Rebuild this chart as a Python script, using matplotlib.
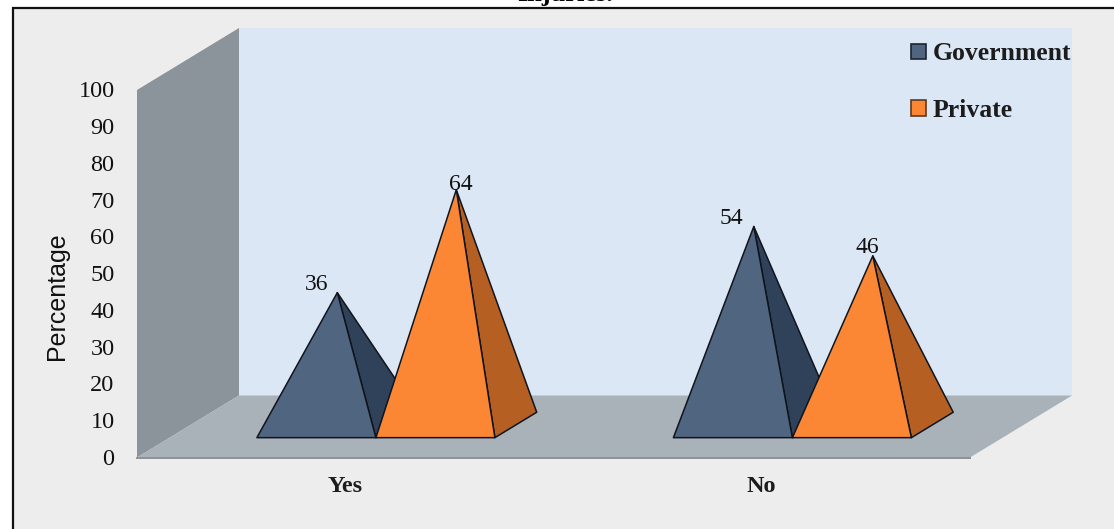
#!/usr/bin/env python
# imports
import matplotlib
matplotlib.use("Agg")
import matplotlib.pyplot as plt
from matplotlib.patches import Polygon, Patch

# data
categories = ["Yes", "No"]
government = [36, 54]
private = [64, 46]
y_ticks = [0, 10, 20, 30, 40, 50, 60, 70, 80, 90, 100]

# scale of the drawing: pixels per category and per percent
PX_W, PX_H = 1114, 529
CAT_PX = 416.5
VAL_PX = 3.675
X0_PX = 345.25   # centre of first category on the front edge of the floor
Y0_PX = 457.5    # value 0 on the front edge

# depth axis, d=0 is the front of the floor, d=1 the back wall
DEPTH_X = 102.0 / CAT_PX
DEPTH_Y = 62.0 / VAL_PX
BASE_FRONT = 0.32
BASE_BACK = 0.73
BAR_W = 119.0 / CAT_PX
PYR_SHIFT = -2.0 / CAT_PX

FRONT_L, FRONT_R = -0.5, 1.5

NAVY, NAVY_SIDE = "#506580", "#2f425a"
ORANGE, ORANGE_SIDE = "#fb8735", "#b55f22"
EDGE = "#10141c"


def proj(x, v, d=0.0):
    # oblique projection of (category, value, depth) onto the page
    return (x + d * DEPTH_X, v + d * DEPTH_Y)


def px_x(p):
    return (p - X0_PX) / CAT_PX


def px_y(p):
    return (Y0_PX - p) / VAL_PX


fig = plt.figure(figsize=(PX_W / 100, PX_H / 100), dpi=100, facecolor="white")
ax = fig.add_axes([0, 0, 1, 1])
ax.set_xlim(px_x(0), px_x(PX_W))
ax.set_ylim(px_y(PX_H), px_y(0))
ax.axis("off")

# panel and its frame
ax.add_patch(Polygon([(px_x(13), px_y(8)), (px_x(PX_W), px_y(8)),
                      (px_x(PX_W), px_y(PX_H)), (px_x(13), px_y(PX_H))],
                     fc="#ededed", ec="none"))
ax.plot([px_x(12.5), px_x(12.5), px_x(PX_W)], [px_y(PX_H), px_y(7.5), px_y(7.5)],
        color="#111111", lw=1.6, solid_joinstyle="miter")

# back wall, side wall, floor
ax.add_patch(Polygon([proj(FRONT_L, 0, 1), proj(FRONT_R, 0, 1),
                      proj(FRONT_R, 100, 1), proj(FRONT_L, 100, 1)],
                     fc="#dce7f5", ec="none"))
ax.add_patch(Polygon([proj(FRONT_L, 0, 0), proj(FRONT_L, 0, 1),
                      proj(FRONT_L, 100, 1), proj(FRONT_L, 100, 0)],
                     fc="#8b949b", ec="none"))
ax.add_patch(Polygon([proj(FRONT_L, 0, 0), proj(FRONT_R, 0, 0),
                      proj(FRONT_R, 0, 1), proj(FRONT_L, 0, 1)],
                     fc="#a9b2b9", ec="none"))
ax.plot([FRONT_L, FRONT_R], [0, 0], color="#8d9195", lw=1.4)


def pyramid(xc, value, face, side):
    left, right = xc - BAR_W / 2, xc + BAR_W / 2
    mid = (BASE_FRONT + BASE_BACK) / 2
    apex = proj(xc, value, mid)
    # side face first, the front face sits on top of it
    ax.add_patch(Polygon([proj(right, 0, BASE_FRONT), proj(right, 0, BASE_BACK), apex],
                         fc=side, ec=EDGE, lw=1.1, joinstyle="round"))
    ax.add_patch(Polygon([proj(left, 0, BASE_FRONT), proj(right, 0, BASE_FRONT), apex],
                         fc=face, ec=EDGE, lw=1.1, joinstyle="round"))
    return apex


serif = "Liberation Serif"
# label offsets from the apex, in points
gov_nudge = [(-15, 5.7), (-15.8, 6)]
pri_nudge = [(3, 4), (-4.3, 5.7)]

for i, cat in enumerate(categories):
    top = pyramid(i - BAR_W / 2 + PYR_SHIFT, government[i], NAVY, NAVY_SIDE)
    ax.annotate(str(government[i]), top, xytext=gov_nudge[i], textcoords="offset points",
                ha="center", va="center", family=serif, fontsize=17, color="#111111")
    top = pyramid(i + BAR_W / 2 + PYR_SHIFT, private[i], ORANGE, ORANGE_SIDE)
    ax.annotate(str(private[i]), top, xytext=pri_nudge[i], textcoords="offset points",
                ha="center", va="center", family=serif, fontsize=17, color="#111111")
    ax.text(i, px_y(486), cat, ha="center", va="center", family=serif,
            fontsize=17.5, fontweight="bold", color="#1c1c1c")

# value axis labels
for t in y_ticks:
    ax.annotate(str(t), (px_x(114.5), t), xytext=(0, -1.3), textcoords="offset points",
                ha="right", va="center", family=serif, fontsize=17.5, color="#111111")
ax.text(px_x(57), px_y(296), "Percentage", rotation=90, ha="center", va="center",
        family="Liberation Sans", fontsize=18, color="#111111")

# title runs off the top of the page
ax.text(px_x(565), px_y(0.5), "Injuries.", ha="center", va="baseline", family=serif,
        fontsize=19, fontweight="bold", color="black")

handles = [Patch(fc=NAVY, ec="#1c2433", lw=1.2, label="Government"),
           Patch(fc=ORANGE, ec="#5a3a20", lw=1.2, label="Private")]
ax.legend(handles=handles, loc="upper left",
          bbox_to_anchor=(911 / PX_W, 1 - 42.5 / PX_H), frameon=False,
          prop={"family": serif, "size": 18.5, "weight": "bold"},
          labelcolor="#1c1c1c", handlelength=0.58, handleheight=0.55,
          handletextpad=0.25, labelspacing=1.3, borderpad=0, borderaxespad=0)

fig.savefig("out.png", dpi=100, facecolor="white")
